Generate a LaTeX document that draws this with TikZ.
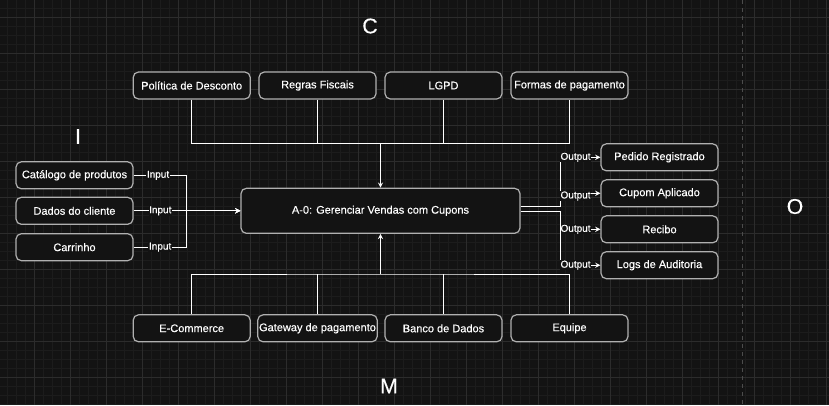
\documentclass[tikz,border=0pt]{standalone}
\usepackage{fontspec}
\setmainfont{Liberation Sans}[FakeBold=0.35]
\definecolor{bgc}{HTML}{131313}
\definecolor{gridmin}{HTML}{1C1C1C}
\definecolor{gridmaj}{HTML}{2C2C2C}
\definecolor{boxline}{HTML}{B0B0B0}
\begin{document}
\begin{tikzpicture}[x=0.75pt,y=-0.75pt,>=stealth,
  box/.style={draw=boxline,fill=bgc,rounded corners=4pt,line width=0.9pt,minimum width=87.75pt,minimum height=20.25pt,inner sep=1pt,text=white,font=\fontsize{8.25}{10}\selectfont},
  conn/.style={white,line width=0.75pt},
  lbl/.style={fill=bgc,text=white,inner sep=0.4pt,font=\fontsize{7.5}{9}\selectfont},
  big/.style={text=white,font=\fontsize{16}{19}\selectfont}]
\useasboundingbox[fill=bgc] (0,0) rectangle (829,405);
\foreach \i in {1,...,92} \draw[gridmin,line width=0.6pt] ({-1.3+9*\i},0) -- ({-1.3+9*\i},405);
\foreach \i in {3,...,47} \draw[gridmin,line width=0.6pt] (0,{-18.7+9*\i}) -- (829,{-18.7+9*\i});
\foreach \i in {1,...,23} \draw[gridmaj,line width=0.75pt] ({-1.3+36*\i},0) -- ({-1.3+36*\i},405);
\foreach \i in {0,...,10} \draw[gridmaj,line width=0.75pt] (0,{17.3+36*\i}) -- (829,{17.3+36*\i});
\draw[gray!60!black,line width=0.75pt,dashed] (742.3,0) -- (742.3,405);

\node[big] (c) at (370,26) {C};
\node[big] (i) at (78,136.5) {I};
\node[big] (o) at (795,206.5) {O};
\node[big] (m) at (389,386) {M};

\node[box] (pol) at (191.7,85.5) {Política de Desconto};
\node[box] (reg) at (317.5,85.5) {Regras Fiscais};
\node[box] (lgpd) at (443.5,85.5) {LGPD};
\node[box] (formas) at (569.5,85.5) {Formas de pagamento};

\node[box,minimum width=209.25pt,minimum height=33.75pt] (main) at (380.5,210.8) {A-0: Gerenciar Vendas com Cupons};

\node[box] (ecom) at (191.7,328.3) {E-Commerce};
\node[box] (gate) at (317.5,328.3) {Gateway de pagamento};
\node[box] (banco) at (443.5,328.3) {Banco de Dados};
\node[box] (equipe) at (569.5,328.3) {Equipe};

\node[box] (cat) at (74.5,175.3) {Catálogo de produtos};
\node[box] (dados) at (74.5,210.8) {Dados do cliente};
\node[box] (carr) at (74.5,247.2) {Carrinho};

\node[box] (ped) at (659.5,157.3) {Pedido Registrado};
\node[box] (cup) at (659.5,193.3) {Cupom Aplicado};
\node[box] (rec) at (659.5,229.3) {Recibo};
\node[box] (logs) at (659.5,265.2) {Logs de Auditoria};

\coordinate (cj) at (380.5,143.3);
\coordinate (mj) at (380.5,274);
\coordinate (ij) at (186.7,210.8);
\coordinate (oa) at (560.3,206.7);
\coordinate (ob) at (560.3,211.3);

\draw[conn] (pol.south) |- (cj) -| (formas.south);
\draw[conn] (reg.south) -- (reg.south |- cj);
\draw[conn] (lgpd.south) -- (lgpd.south |- cj);
\draw[conn,->] (cj) -- (main.north);

\draw[conn] (ecom.north) |- (mj) -| (equipe.north);
\draw[conn] (gate.north) -- (gate.north |- mj);
\draw[conn] (banco.north) -- (banco.north |- mj);
\draw[conn,->] (mj) -- (main.south);

\draw[conn,->] (cat.east) -| node[lbl,pos=0.23]{Input} (ij) -- (main.west);
\draw[conn,->] (dados.east) -- node[lbl,pos=0.25]{Input} (main.west);
\draw[conn,->] (carr.east) -| node[lbl,pos=0.25]{Input} (ij) -- (main.west);

\draw[conn,->] (main.east |- oa) -- (oa) |- node[lbl,pos=0.69]{Output} (ped.west);
\draw[conn,->] (main.east |- oa) -- (oa) |- node[lbl,pos=0.69,yshift=-2pt]{Output} (cup.west);
\draw[conn,->] (main.east |- ob) -- (ob) |- node[lbl,pos=0.69]{Output} (rec.west);
\draw[conn,->] (main.east |- ob) -- (ob) |- node[lbl,pos=0.69]{Output} (logs.west);
\end{tikzpicture}
\end{document}
